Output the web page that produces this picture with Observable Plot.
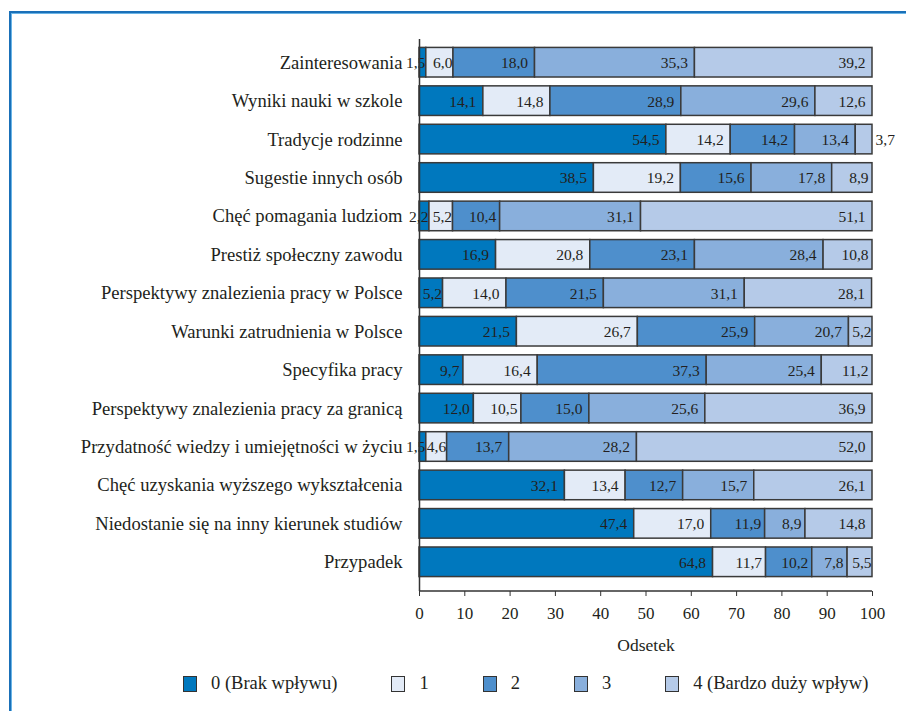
<!DOCTYPE html>
<html>
<head>
<meta charset="utf-8">
<script src="https://cdn.jsdelivr.net/npm/d3@7"></script>
<script src="https://cdn.jsdelivr.net/npm/@observablehq/plot@0.6"></script>
<style>
  html, body { margin: 0; padding: 0; background: #fff; overflow: hidden; width: 906px; height: 711px; }
  #frame { position: absolute; left: 9px; top: 11px; width: 1000px; height: 800px;
           border-left: 2px solid #1a70b8; border-top: 2px solid #1a70b8;
           box-shadow: inset 1px 1px 0 #6ab4e6; box-sizing: border-box; }
  #chart { position: absolute; left: 0; top: 0; }
  #legend { position: absolute; left: 183px; top: 673px; width: 720px; display: flex; align-items: center; white-space: nowrap;
            font-family: "Liberation Serif", "Times New Roman", Times, "DejaVu Serif", serif; font-size: 18.5px; color: #231f20; }
  .item { display: flex; align-items: center; margin-right: 54px; flex: none; }
  .sw { width: 12px; height: 14px; border: 1px solid #333; margin-right: 14px; flex: none; }
</style>
</head>
<body>
<div id="frame"></div>
<div id="chart"></div>
<div id="legend"></div>
<script>
const categories = [
  "Zainteresowania",
  "Wyniki nauki w szkole",
  "Tradycje rodzinne",
  "Sugestie innych osób",
  "Chęć pomagania ludziom",
  "Prestiż społeczny zawodu",
  "Perspektywy znalezienia pracy w Polsce",
  "Warunki zatrudnienia w Polsce",
  "Specyfika pracy",
  "Perspektywy znalezienia pracy za granicą",
  "Przydatność wiedzy i umiejętności w życiu",
  "Chęć uzyskania wyższego wykształcenia",
  "Niedostanie się na inny kierunek studiów",
  "Przypadek"
];
const levels = ["0 (Brak wpływu)", "1", "2", "3", "4 (Bardzo duży wpływ)"];
const s0 = [1.5, 14.1, 54.5, 38.5, 2.2, 16.9, 5.2, 21.5, 9.7, 12.0, 1.5, 32.1, 47.4, 64.8];
const s1 = [6.0, 14.8, 14.2, 19.2, 5.2, 20.8, 14.0, 26.7, 16.4, 10.5, 4.6, 13.4, 17.0, 11.7];
const s2 = [18.0, 28.9, 14.2, 15.6, 10.4, 23.1, 21.5, 25.9, 37.3, 15.0, 13.7, 12.7, 11.9, 10.2];
const s3 = [35.3, 29.6, 13.4, 17.8, 31.1, 28.4, 31.1, 20.7, 25.4, 25.6, 28.2, 15.7, 8.9, 7.8];
const s4 = [39.2, 12.6, 3.7, 8.9, 51.1, 10.8, 28.1, 5.2, 11.2, 36.9, 52.0, 26.1, 14.8, 5.5];
const xTicks = [0, 10, 20, 30, 40, 50, 60, 70, 80, 90, 100];
const xLabel = "Odsetek";
const colors = ["#0078be", "#e3ebf7", "#4e8fcc", "#89afdc", "#b5cae8"];

const series = [s0, s1, s2, s3, s4];
const data = [];
categories.forEach((c, i) => {
  series.forEach((s, k) => data.push({cat: c, level: levels[k], li: k, value: s[i]}));
});
const fmt = v => v.toFixed(1).replace(".", ",");
const outside = d => d.li === 4 && d.value < 5;
const narrow = d => !outside(d) && d.value < 7.5;
const mid = d => d.value >= 7.5 && d.value < 12.5;
const wide = d => d.value >= 12.5;

const labelMark = (pick, opts) => Plot.text(data, Plot.stackX2({x: "value", y: "cat", order: null,
  text: d => pick(d) ? fmt(d.value) : null, dy: 0.5, fontSize: 15.5, fill: "#231f20", ...opts}));

const plot = Plot.plot({
  width: 906,
  height: 665,
  marginLeft: 419,
  marginRight: 34,
  marginTop: 39,
  marginBottom: 74,
  insetTop: 4,
  insetBottom: 10,
  style: {fontFamily: "'Liberation Serif', 'Times New Roman', Times, 'DejaVu Serif', serif", background: "transparent", color: "#231f20"},
  x: {domain: [0, 100]},
  y: {domain: categories, paddingInner: 0.23, paddingOuter: 0.115, round: false},
  color: {domain: levels, range: colors},
  marks: [
    Plot.barX(data, Plot.stackX({x: "value", y: "cat", fill: "level", stroke: "#3a3a3a", strokeWidth: 1.5, order: null})),
    labelMark(wide, {textAnchor: "end", dx: -7}),
    labelMark(mid, {textAnchor: "end", dx: -4}),
    labelMark(narrow, {textAnchor: "end", dx: -1}),
    labelMark(outside, {textAnchor: "start", dx: 3}),
    Plot.ruleX([0], {stroke: "#333", strokeWidth: 1.5}),
    (index, scales, values, dims) => {
      const y = dims.height - dims.marginBottom;
      return d3.create("svg:line")
        .attr("x1", scales.x(0)).attr("x2", scales.x(100))
        .attr("y1", y).attr("y2", y)
        .attr("stroke", "#333").attr("stroke-width", 1.5).node();
    },
    Plot.axisX({ticks: xTicks, tickSize: 5, tickPadding: 10, fontSize: 17, label: null, stroke: "#333"}),
    Plot.axisY({tickSize: 0, tickPadding: 17, fontSize: 18.6, label: null}),
    Plot.text([xLabel], {text: d => d, frameAnchor: "bottom", dy: 54, fontSize: 17.5, lineAnchor: "middle", fill: "#231f20"})
  ]
});
document.getElementById("chart").appendChild(plot);

const legend = document.getElementById("legend");
levels.forEach((l, k) => {
  const it = document.createElement("div");
  it.className = "item";
  const sw = document.createElement("div");
  sw.className = "sw";
  sw.style.background = colors[k];
  const t = document.createElement("span");
  t.textContent = l;
  it.appendChild(sw); it.appendChild(t);
  legend.appendChild(it);
});
</script>
</body>
</html>
